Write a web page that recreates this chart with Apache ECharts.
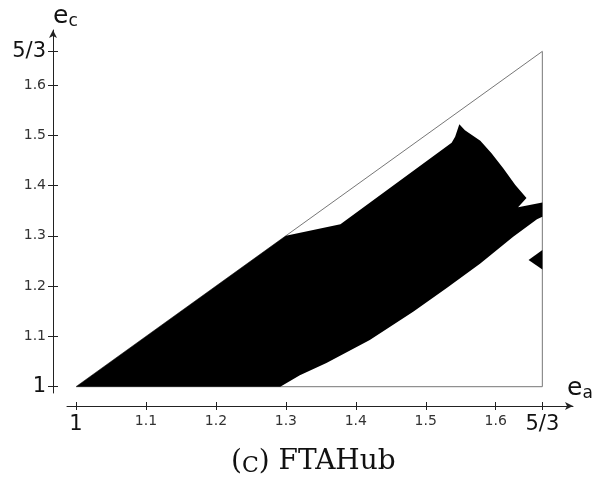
<!DOCTYPE html>
<html>
<head>
<meta charset="utf-8">
<script src="https://cdn.jsdelivr.net/npm/echarts@6/dist/echarts.min.js"></script>
<style>
  html, body { margin: 0; padding: 0; background: #fff; }
  #main { width: 594px; height: 483px; }
</style>
</head>
<body>
<div id="main"></div>
<script>
// tick positions and their labels (same on both axes)
var tickValues = [1, 1.1, 1.2, 1.3, 1.4, 1.5, 1.6, 5 / 3];
var tickLabels = ['1', '1.1', '1.2', '1.3', '1.4', '1.5', '1.6', '5/3'];

// outline of the feasible triangle
var triangle = [[1, 1], [5 / 3, 5 / 3], [5 / 3, 1], [1, 1]];

// black region (e_a, e_c)
var regionMain = [
  [1, 1], [1.3, 1.3], [1.378, 1.323], [1.537, 1.485], [1.542, 1.497],
  [1.548, 1.522], [1.556, 1.510], [1.578, 1.489], [1.594, 1.464],
  [1.611, 1.434], [1.628, 1.401], [1.644, 1.375], [1.632, 1.357],
  [1.6667, 1.366], [1.6667, 1.338], [1.659, 1.333], [1.625, 1.298],
  [1.578, 1.245], [1.530, 1.196], [1.482, 1.149], [1.420, 1.093],
  [1.358, 1.047], [1.320, 1.023], [1.292, 1]
];
// small piece on the right edge
var regionSmall = [[1.647, 1.252], [1.6667, 1.272], [1.6667, 1.233]];

var chart = echarts.init(document.getElementById('main'));

function tickFormatter(v) {
  for (var i = 0; i < tickValues.length; i++) {
    if (Math.abs(tickValues[i] - v) < 1e-6) {
      var t = tickLabels[i];
      if (t === '1' || t === '5/3') return '{big|' + t + '}';
      return t;
    }
  }
  return '';
}

function polygonItem(points) {
  return function (params, api) {
    if (params.dataIndex !== 0) return;
    var pts = points.map(function (p) { return api.coord(p); });
    return { type: 'polygon', shape: { points: pts }, style: { fill: '#000' } };
  };
}

var labelStyle = {
  color: '#333',
  fontSize: 14,
  fontFamily: 'DejaVu Sans',
  rich: {
    big: { fontSize: 21, color: '#111', fontFamily: 'DejaVu Sans' }
  }
};

var nameRich = {
  e: { fontSize: 25, fontFamily: 'DejaVu Sans', color: '#111', lineHeight: 28 },
  s: { fontSize: 17, fontFamily: 'DejaVu Sans', color: '#111', lineHeight: 16, verticalAlign: 'bottom' }
};

var option = {
  animation: false,
  backgroundColor: '#fff',
  title: {
    text: '({sc|C}) FTAHub',
    left: 226,
    top: 441,
    textStyle: {
      fontFamily: 'DejaVu Serif', fontSize: 28, fontWeight: 'normal', color: '#111', lineHeight: 31,
      rich: {
        sc: { fontFamily: 'DejaVu Serif', fontSize: 22, color: '#111', lineHeight: 27, verticalAlign: 'bottom' }
      }
    }
  },
  grid: { left: 67, right: 21, top: 30, bottom: 90, outerBoundsMode: 'none' },
  xAxis: [{
    type: 'value',
    min: 0.98713, max: 1.7105,
    offset: 13,
    position: 'bottom',
    name: '{e|e}{s|a}',
    nameLocation: 'end',
    nameGap: -6,
    nameTextStyle: { align: 'left', verticalAlign: 'bottom', padding: [0, 0, 4, 0], rich: nameRich },
    axisLine: { lineStyle: { color: '#222', width: 1 }, symbol: ['none', 'arrow'], symbolSize: [6, 8] },
    axisTick: { customValues: tickValues, length: 4, lineStyle: { color: '#222' } },
    axisLabel: Object.assign({ customValues: tickValues, formatter: tickFormatter, margin: 8 }, labelStyle),
    splitLine: { show: false }
  }, {
    type: 'value',
    min: 0.98713, max: 1.7105,
    offset: 13,
    position: 'bottom',
    axisLine: { show: false },
    axisTick: { customValues: tickValues, inside: true, length: 4, lineStyle: { color: '#222' } },
    axisLabel: { show: false },
    splitLine: { show: false }
  }],
  yAxis: [{
    type: 'value',
    min: 0.98748, max: 1.70915,
    offset: 14,
    position: 'left',
    name: '{e|e}{s|c}',
    nameLocation: 'end',
    nameGap: 0,
    nameTextStyle: { align: 'left', verticalAlign: 'bottom', rich: nameRich },
    axisLine: { lineStyle: { color: '#222', width: 1 }, symbol: ['none', 'arrow'], symbolSize: [6, 8] },
    axisTick: { customValues: tickValues, length: 5, lineStyle: { color: '#222' } },
    axisLabel: Object.assign({ customValues: tickValues, formatter: tickFormatter, margin: 7 }, labelStyle),
    splitLine: { show: false }
  }, {
    type: 'value',
    min: 0.98748, max: 1.70915,
    offset: 14,
    position: 'left',
    axisLine: { show: false },
    axisTick: { customValues: tickValues, inside: true, length: 5, lineStyle: { color: '#222' } },
    axisLabel: { show: false },
    splitLine: { show: false }
  }],
  series: [
    {
      type: 'line',
      data: triangle,
      symbol: 'none',
      lineStyle: { color: '#777', width: 1 },
      z: 1
    },
    {
      type: 'custom',
      data: regionMain,
      renderItem: polygonItem(regionMain),
      z: 2
    },
    {
      type: 'custom',
      data: regionSmall,
      renderItem: polygonItem(regionSmall),
      z: 2
    }
  ]
};

chart.setOption(option);
</script>
</body>
</html>
